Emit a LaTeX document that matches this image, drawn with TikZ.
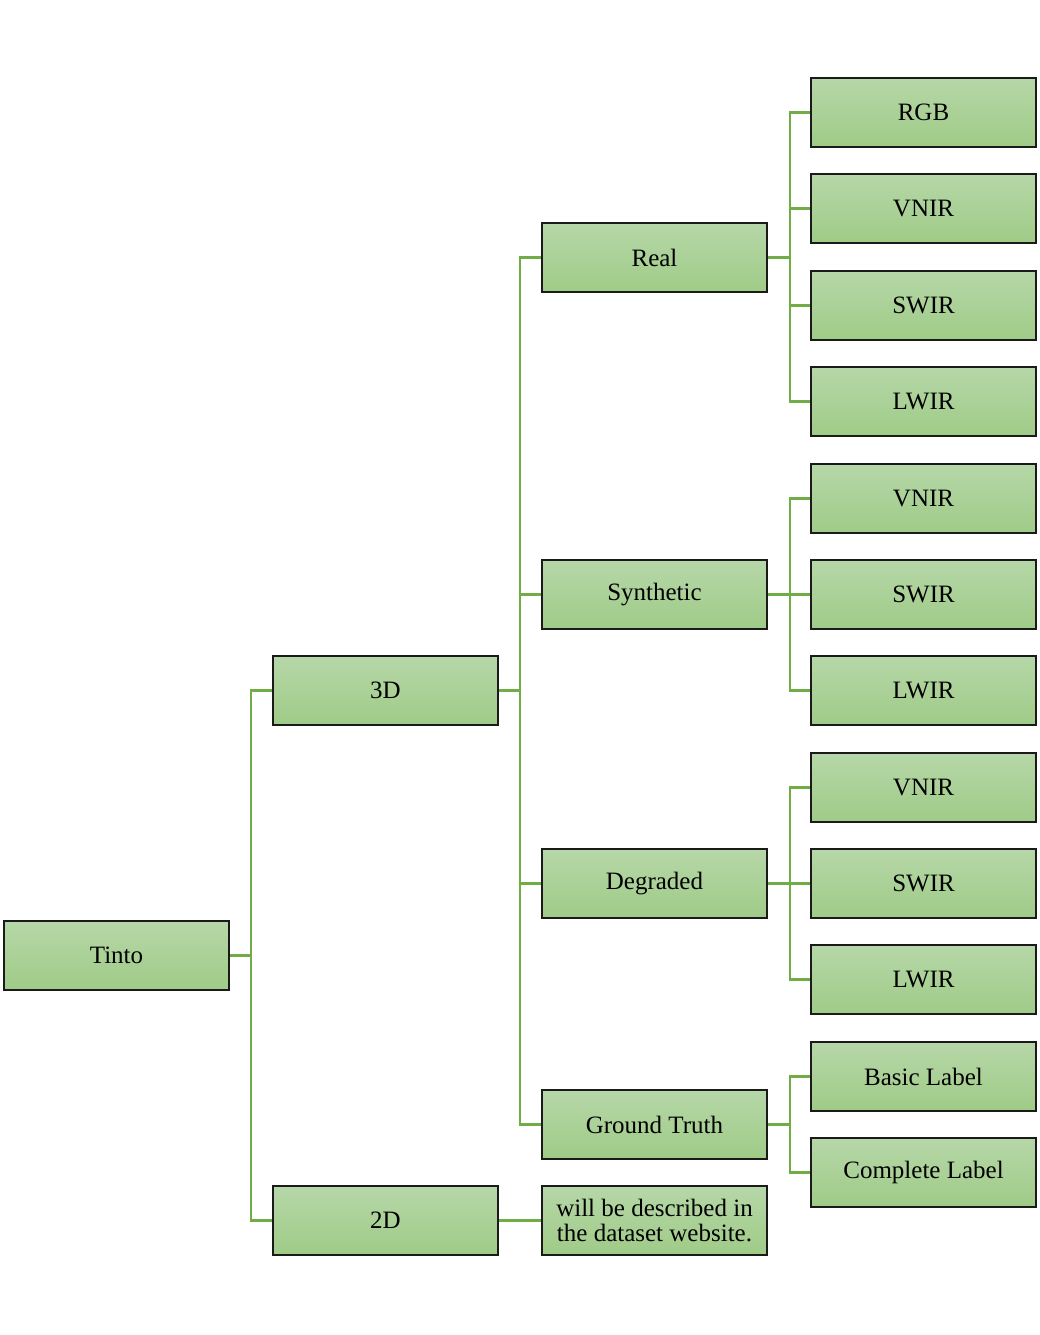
\documentclass[tikz,border=0pt]{standalone}
\usepackage{fontspec}
\setmainfont{Liberation Serif}
\definecolor{boxtop}{HTML}{B6D7A8}
\definecolor{boxbot}{HTML}{9FCB87}
\definecolor{conncol}{HTML}{70AD47}
\definecolor{boxedge}{HTML}{1A1A1A}
\begin{document}
\begin{tikzpicture}[x=1pt,y=-1pt,
  gbox/.style={draw=boxedge, line width=2pt, top color=boxtop, bottom color=boxbot,
    minimum width=225pt, minimum height=69pt, inner sep=0pt, align=center,
    font=\fontsize{25}{25}\selectfont},
  conn/.style={draw=conncol, line width=2.2pt}]
\useasboundingbox (0,0) rectangle (1039,1335);
% level 0
\node[gbox] (tinto) at (116.5,955.5) {Tinto};
% level 1
\node[gbox] (d3) at (385.5,690.5) {3D};
\node[gbox] (d2) at (385.5,1220.5) {2D};
% level 2
\node[gbox] (real) at (654.5,257.5) {Real};
\node[gbox] (syn) at (654.5,594.5) {Synthetic};
\node[gbox] (deg) at (654.5,883.5) {Degraded};
\node[gbox] (gt) at (654.5,1124.5) {Ground Truth};
\node[gbox] (web) at (654.5,1220.5) {will be described in\\the dataset website.};
% level 3
\node[gbox] (rgb) at (923.5,112.5) {RGB};
\node[gbox] (rvnir) at (923.5,208.5) {VNIR};
\node[gbox] (rswir) at (923.5,305.5) {SWIR};
\node[gbox] (rlwir) at (923.5,401.5) {LWIR};
\node[gbox] (svnir) at (923.5,498.5) {VNIR};
\node[gbox] (sswir) at (923.5,594.5) {SWIR};
\node[gbox] (slwir) at (923.5,690.5) {LWIR};
\node[gbox] (dvnir) at (923.5,787.5) {VNIR};
\node[gbox] (dswir) at (923.5,883.5) {SWIR};
\node[gbox] (dlwir) at (923.5,979.5) {LWIR};
\node[gbox] (basic) at (923.5,1076.5) {Basic Label};
\node[gbox] (compl) at (923.5,1172.5) {Complete Label};
% connectors
\foreach \c in {d3,d2} \draw[conn] (tinto.east) -- ++(21,0) |- (\c.west);
\foreach \c in {real,syn,deg,gt} \draw[conn] (d3.east) -- ++(21,0) |- (\c.west);
\draw[conn] (d2.east) -- (web.west);
\foreach \c in {rgb,rvnir,rswir,rlwir} \draw[conn] (real.east) -- ++(22,0) |- (\c.west);
\foreach \c in {svnir,sswir,slwir} \draw[conn] (syn.east) -- ++(22,0) |- (\c.west);
\foreach \c in {dvnir,dswir,dlwir} \draw[conn] (deg.east) -- ++(22,0) |- (\c.west);
\foreach \c in {basic,compl} \draw[conn] (gt.east) -- ++(22,0) |- (\c.west);
\end{tikzpicture}
\end{document}
